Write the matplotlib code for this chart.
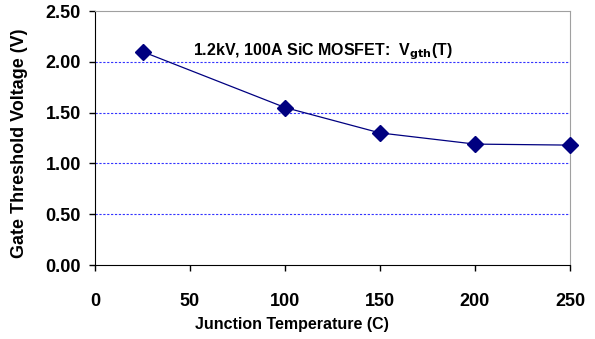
import matplotlib
matplotlib.use("Agg")
import matplotlib.pyplot as plt

temps = [25, 100, 150, 200, 250]
vgth = [2.10, 1.55, 1.30, 1.19, 1.18]
xticks = [0, 50, 100, 150, 200, 250]
yticks = [0.0, 0.5, 1.0, 1.5, 2.0, 2.5]

plt.rcParams['font.family'] = ['Liberation Sans', 'DejaVu Sans']
W, H = 595, 339
fig = plt.figure(figsize=(W/100, H/100), dpi=100)
ax = fig.add_axes([95/W, 1-265/H, 475/W, 254/H])

ax.set_xlim(0, 250)
ax.set_ylim(0, 2.5)
for y in yticks[1:-1]:
    ax.axhline(y, color='#3333ff', linestyle=(0, (2, 1.5)), linewidth=0.8, zorder=1)
ax.plot(temps, vgth, color='#000080', linewidth=0.9, marker='D', markersize=8,
        markerfacecolor='#000080', markeredgecolor='#000080', zorder=3, clip_on=False)

ax.set_xticks(xticks)
ax.set_yticks(yticks)
ax.set_xticklabels([str(t) for t in xticks], fontsize=13, fontweight='bold')
ax.set_yticklabels(['%.2f' % t for t in yticks], fontsize=13, fontweight='bold')
ax.tick_params(direction='out', length=4, width=1)
ax.tick_params(axis='y', pad=6)
ax.tick_params(axis='x', pad=16)
for s in ['top', 'right']:
    ax.spines[s].set_color('#a0a0a0')
for s in ['left', 'bottom']:
    ax.spines[s].set_color('black')
fig.text(292/W, 1-325/H, 'Junction Temperature (C)', fontsize=11.5, fontweight='bold',
         ha='center', va='center')
fig.text(20/W, 1-143/H, 'Gate Threshold Voltage (V)', fontsize=13, fontweight='bold',
         ha='center', va='center', rotation=90)
ax.text(51.5, 2.067, r'1.2kV, 100A SiC MOSFET:  V$_{\mathbf{gth}}$(T)', fontsize=11.5,
        fontweight='bold', ha='left', va='baseline')

fig.savefig('out.png', dpi=100)
